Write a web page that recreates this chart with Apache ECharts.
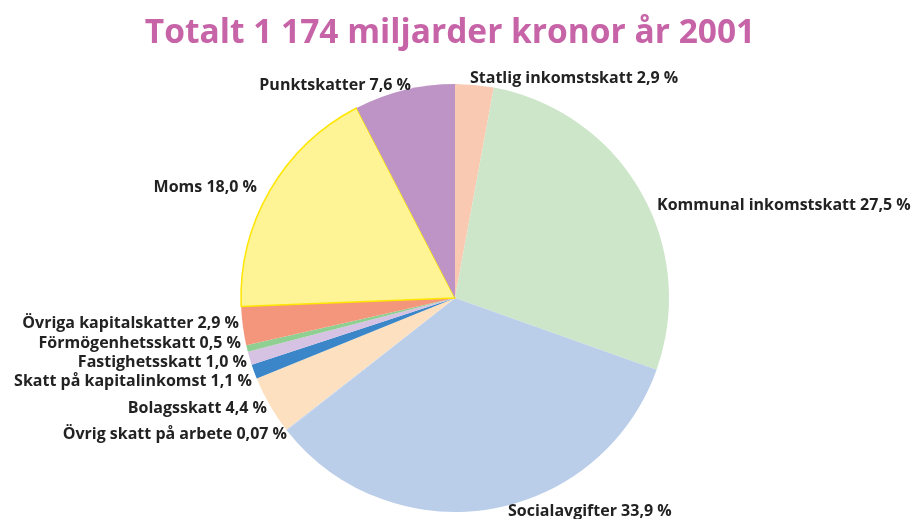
<!DOCTYPE html>
<html>
<head>
<meta charset="utf-8">
<script src="https://cdn.jsdelivr.net/npm/echarts@6/dist/echarts.min.js"></script>
<style>
  html, body { margin: 0; padding: 0; background: #fff; }
  #chart { width: 918px; height: 519px; }
</style>
</head>
<body>
<div id="chart"></div>
<script>
var categories = ['Statlig inkomstskatt', 'Kommunal inkomstskatt', 'Socialavgifter', 'Övrig skatt på arbete',
	'Bolagsskatt', 'Skatt på kapitalinkomst', 'Fastighetsskatt', 'Förmögenhetsskatt',
	'Övriga kapitalskatter', 'Moms', 'Punktskatter'];
var values = [2.9, 27.5, 33.9, 0.07, 4.4, 1.1, 1.0, 0.5, 2.9, 18.0, 7.6];
var valueLabels = ['2,9', '27,5', '33,9', '0,07', '4,4', '1,1', '1,0', '0,5', '2,9', '18,0', '7,6'];

var colors = ['#f9c9b1', '#cde6c9', '#bacee9', '#bacee9', '#fde0bf', '#3a86c8', '#d6c2e2', '#8fcf91', '#f4967b', '#fff495', '#bd94c5'];

// where each label sits (x, y, align)
var labelPos = [
	[470, 78, 'left'],
	[657, 205, 'left'],
	[508, 511, 'left'],
	[287, 434, 'right'],
	[267, 408, 'right'],
	[252, 381, 'right'],
	[247, 362, 'right'],
	[241, 343, 'right'],
	[239, 323, 'right'],
	[257, 187, 'right'],
	[411, 85, 'right']
];

var pieData = [];
categories.forEach(function(name, i){
	var item = {
		name: name,
		value: values[i],
		itemStyle: { color: colors[i] }
	};
	if (name == 'Moms') {
		item.itemStyle.borderColor = '#ffe600';
		item.itemStyle.borderWidth = 1.5;
	}
	pieData.push(item);
});

var myChart = echarts.init(document.getElementById('chart'));
var option = {
	animation: false,
	title: {
		text: 'Totalt 1 174 miljarder kronor år 2001',
		left: 445,
		top: 11,
		textAlign: 'center',
		textStyle: {
			color: '#c764a8',
			fontFamily: "'Open Sans', sans-serif",
			fontWeight: 'bold',
			fontSize: 33.5
		}
	},
	series: [{
		type: 'pie',
		center: [455, 298],
		radius: 214,
		startAngle: 90,
		clockwise: true,
		avoidLabelOverlap: false,
		itemStyle: { borderWidth: 0 },
		label: {
			show: true,
			position: 'outside',
			color: '#222',
			fontFamily: "'Open Sans', sans-serif",
			fontWeight: 'bold',
			fontSize: 16,
			formatter: function(p){
				return p.name + ' ' + valueLabels[p.dataIndex] + ' %';
			}
		},
		labelLine: { show: false },
		labelLayout: function(params){
			var pos = labelPos[params.dataIndex];
			return {
				x: pos[0],
				y: pos[1],
				align: pos[2],
				verticalAlign: 'middle',
				hideOverlap: false
			};
		},
		emphasis: { disabled: true },
		data: pieData
	}]
};
myChart.setOption(option);
</script>
</body>
</html>
